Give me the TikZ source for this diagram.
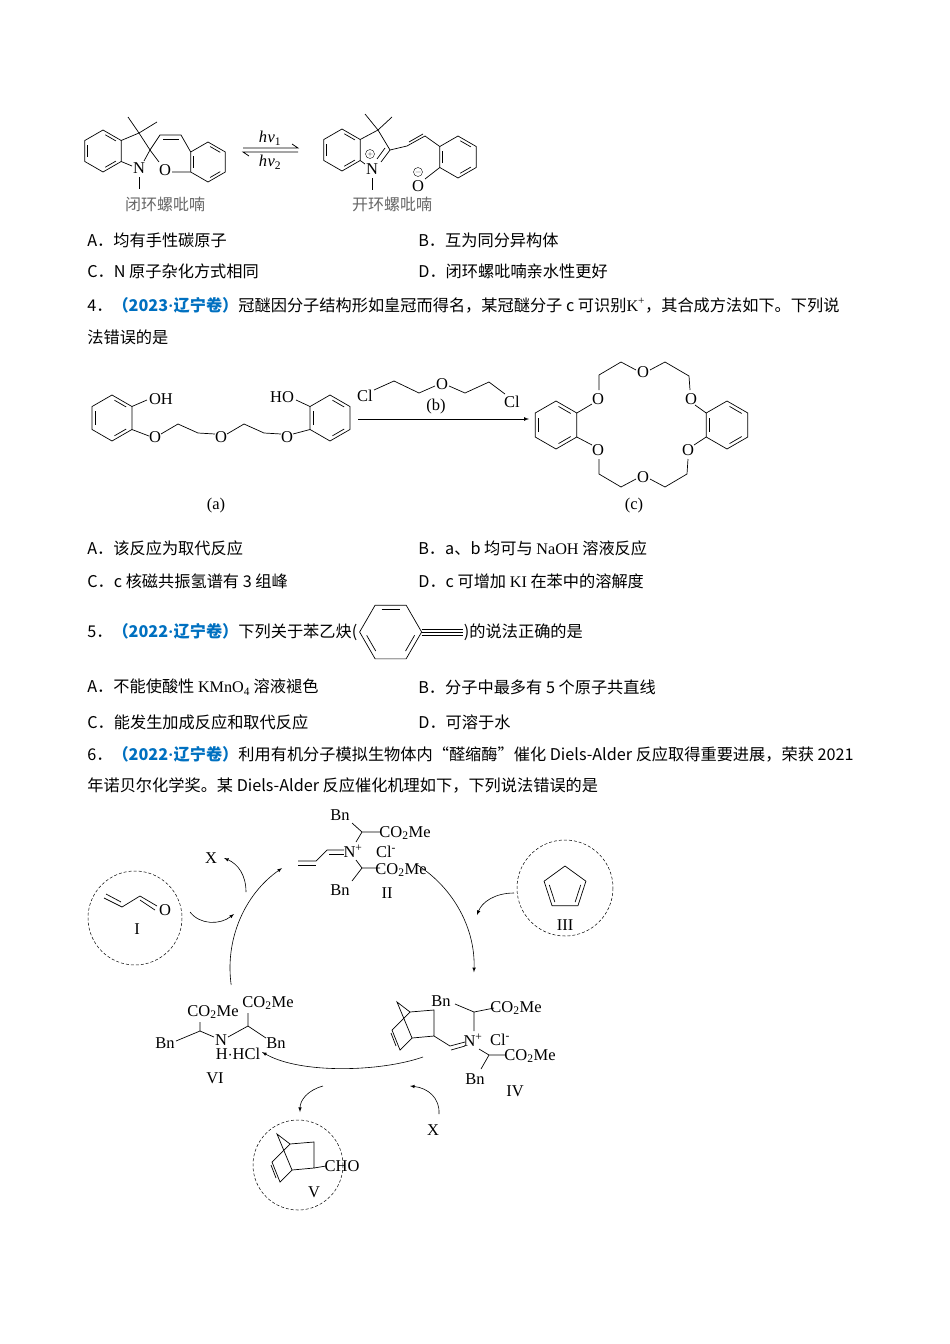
\documentclass[tikz,border=0pt]{standalone}
\usepackage{fontspec}
\setmainfont{Noto Sans CJK SC}
\newfontfamily\chem{Liberation Serif}
\usetikzlibrary{arrows,positioning,calc}
\definecolor{tagblue}{RGB}{0,112,192}
\tikzset{
    txt/.style={anchor=west,inner sep=0pt,font=\fontsize{16.2}{18}\selectfont},
    chm/.style={inner sep=0.5pt,font=\chem\fontsize{16.5}{17}\selectfont},
    captxt/.style={inner sep=0pt,font=\fontsize{16}{18}\selectfont,text=black!60},
    dcirc/.style={draw,densely dashed,line width=0.5pt},
    step arrow/.style={-latex,line width=0.6pt}
}
\newcommand{\tagb}[1]{\textcolor{tagblue}{\bfseries （#1{\chem\bfseries ·}辽宁卷）}}
% benzene ring: centre, radius, start angle
\newcommand{\benzring}[3]{%
  \begin{scope}[shift={(#1)}]
    \draw (#3:#2) \foreach \k in {1,...,5}{ -- (#3+\k*60:#2)} -- cycle;
    \foreach \k in {0,2,4} \draw (#3+\k*60+8:0.78*#2) -- (#3+\k*60+52:0.78*#2);
  \end{scope}}
% norbornene skeleton, origin at upper bridgehead
\newcommand{\norbornene}{%
  \draw (0,0) -- (24,-2) -- (24,24) -- (2,26) -- (-10,38) -- (-18,18) -- cycle;
  \draw (-14,34) -- (-19,21);
  \draw (0,0) -- (-13,-10) -- (2,26);}
\begin{document}
\begin{tikzpicture}[x=1pt,y=-1pt,line width=0.7pt]
\useasboundingbox (0,0) rectangle (950,1344);

%% question 3: spiropyran
\benzring{103,151}{21}{30}
\draw (121.2,140.5) -- (139,133) -- (150,150) -- (144,161);
\draw (121.2,161.5) -- (132,166);
\draw (139,133) -- (128,117) (139,133) -- (157,122);
\node[chm] (n1) at (139,168) {N};
\draw (139,177) -- (139,189);
\draw (150,150) -- (160,135) -- (181,135) -- (190.7,152);
\draw (163,139.5) -- (179,139.5);
\node[chm] (o1) at (165,170) {O};
\draw (150,150) -- (159,162) (172,172) -- (190.7,172);
\benzring{208,162}{20}{30}
\draw (243,148) -- (298,148) -- (292,144);
\draw (298,152) -- (243,152) -- (249,156);
\node[chm] (hv1) at (270,138) {\itshape h\kern0.5pt v\textsubscript{\upshape 1}};
\node[chm] (hv2) at (270,162) {\itshape h\kern0.5pt v\textsubscript{\upshape 2}};
\benzring{342,150}{21}{30}
\draw (360.2,139.5) -- (378,130) -- (390,150) -- (381,162);
\draw (385,148) -- (377,159);
\draw (360.2,160.5) -- (365,164);
\draw (378,130) -- (365,114) (378,130) -- (392,117);
\node[chm] (n2) at (372,169) {N};
\draw[line width=0.4pt] (370,154) circle (4.5) (367.5,154) -- (372.5,154) (370,151.5) -- (370,156.5);
\draw (372,178) -- (372,190);
\draw (390,150) -- (407,146) -- (425,136) -- (439.8,146.5);
\draw (409,142) -- (423,134);
\benzring{458,157}{21}{30}
\node[chm] (o2) at (418,186) {O};
\draw[line width=0.4pt] (418,172) circle (4.5) (415.5,172) -- (420.5,172);
\draw (439.8,167.5) -- (425,179);
\node[captxt] (c1) at (165,204) {闭环螺吡喃};
\node[captxt] (c2) at (392,204) {开环螺吡喃};
\node[txt] at (87,240) {A．均有手性碳原子};
\node[txt] at (418,240) {B．互为同分异构体};
\node[txt] at (87,271) {C．N 原子杂化方式相同};
\node[txt] at (418,271) {D．闭环螺吡喃亲水性更好};

%% question 4: crown ether
\node[txt] at (87,305) {4．\tagb{2023}冠醚因分子结构形如皇冠而得名，某冠醚分子 c 可识别{\chem K\textsuperscript{+}}，其合成方法如下。下列说};
\node[txt] at (87,337) {法错误的是};
\benzring{112,418}{23}{30}
\node[chm] (oh) at (161,399) {OH};
\draw (131.9,406.5) -- (147,400);
\node[chm] (oa1) at (155,437) {O};
\node[chm] (oa2) at (221,437) {O};
\node[chm] (oa3) at (287,437) {O};
\draw (131.9,429.5) -- (149,436);
\draw (161,434) -- (178,424) -- (198,433) -- (215,434);
\draw (227,434) -- (244,424) -- (264,433) -- (281,434);
\draw (293,434) -- (310,429.5);
\benzring{330,418}{23}{30}
\node[chm] (ho) at (282,397) {HO};
\draw (296,400) -- (310,406.5);
\node[chm] (cl1) at (365,396) {Cl};
\node[chm] (ob) at (442,384) {O};
\node[chm] (cl2) at (512,402) {Cl};
\node[chm] (lb) at (436,407) {(b)};
\draw (374,390) -- (394,381) -- (419,393) -- (435,386);
\draw (449,386) -- (465,393) -- (489,382) -- (505,394);
\draw[-latex] (358,419) -- (529,419);
\benzring{556,425}{24}{30}
\benzring{727,425}{24}{30}
\node[chm] (oc1) at (598,399) {O};
\node[chm] (oc2) at (598,450) {O};
\node[chm] (oc3) at (643,372) {O};
\node[chm] (oc4) at (691,399) {O};
\node[chm] (oc5) at (688,450) {O};
\node[chm] (oc6) at (643,477) {O};
\draw (576.8,413) -- (592,404) (576.8,437) -- (592,445);
\draw (599,390) -- (599,375) -- (621,362) -- (636,370);
\draw (650,370) -- (665,362) -- (689,376) -- (690,390);
\draw (695,405) -- (706.2,413) (694,445) -- (706.2,437);
\draw (599,459) -- (599,474) -- (621,487) -- (636,479);
\draw (650,479) -- (665,487) -- (687,474) -- (688,459);
\node[chm] (la) at (216,506) {(a)};
\node[chm] (lc) at (634,506) {(c)};
\node[txt] at (87,548) {A．该反应为取代反应};
\node[txt] at (418,548) {B．a、b 均可与 {\chem NaOH} 溶液反应};
\node[txt] at (87,581) {C．c 核磁共振氢谱有 3 组峰};
\node[txt] at (418,581) {D．c 可增加 {\chem KI} 在苯中的溶解度};

%% question 5: phenylethyne
\node[txt] (q5) at (87,632) {5．\tagb{2022}下列关于苯乙炔(};
\benzring{$(q5.east)+(33,0)$}{31}{0}
\draw ($(q5.east)+(64,-3)$) -- ++(41,0) ($(q5.east)+(64,0)$) -- ++(41,0) ($(q5.east)+(64,3)$) -- ++(41,0);
\node[txt] at ($(q5.east)+(106,0)$) {)的说法正确的是};
\node[txt] at (87,687) {A．不能使酸性 {\chem KMnO\textsubscript{4}} 溶液褪色};
\node[txt] at (418,687) {B．分子中最多有 5 个原子共直线};
\node[txt] at (87,722) {C．能发生加成反应和取代反应};
\node[txt] at (418,722) {D．可溶于水};

%% question 6: catalytic cycle
\node[txt] at (87,754) {6．\tagb{2022}利用有机分子模拟生物体内“醛缩酶”催化 Diels-Alder 反应取得重要进展，荣获 2021};
\node[txt] at (87,785) {年诺贝尔化学奖。某 Diels-Alder 反应催化机理如下，下列说法错误的是};

\draw[step arrow] (352,968) ++(-58:122) arc[start angle=-58,end angle=2,radius=122];
\draw[step arrow] (352,968) ++(172:122) arc[start angle=172,end angle=235,radius=122];
\draw[step arrow] (423,1057) .. controls (380,1072) and (300,1074) .. (262,1052);

% I
\draw[dcirc] (135,918) circle (47);
\draw (104,898) -- (122,907) -- (140,896) -- (157,906);
\draw (106,894) -- (121,902) (140,900) -- (155,910);
\node[chm] (oI) at (165,910) {O};
\node[chm] (lI) at (137,929) {I};
\draw[step arrow] (190,912) .. controls (200,925) and (220,925) .. (234,914);
\node[chm] (x1) at (211,858) {X};
\draw[step arrow] (246,892) .. controls (246,875) and (238,864) .. (224,858);
% II
\node[chm] (nII) at (353,851) {N\textsuperscript{+}};
\node[chm] (clII) at (386,852) {Cl\textsuperscript{-}};
\node[chm] (bnII1) at (340,815) {Bn};
\node[chm] (bnII2) at (340,890) {Bn};
\node[chm] (esII1) at (405,833) {CO\textsubscript{2}Me};
\node[chm] (esII2) at (401,870) {CO\textsubscript{2}Me};
\node[chm] (lII) at (387,893) {II};
\draw (298,861) -- (316,861) -- (327,850) -- (344,850);
\draw (298,865) -- (316,865) (329,854) -- (344,854);
\draw (356,842) -- (362,832) -- (352,823) (362,832) -- (380,832);
\draw (356,860) -- (362,868) -- (352,881) (362,868) -- (380,868);
% III
\draw[dcirc] (565,888) circle (48);
\path (565,888) ++(-90:22) coordinate (p1) (565,888) ++(-18:22) coordinate (p2)
      (565,888) ++(54:22) coordinate (p3) (565,888) ++(126:22) coordinate (p4)
      (565,888) ++(198:22) coordinate (p5);
\draw (p1) -- (p2) -- (p3) -- (p4) -- (p5) -- cycle;
\draw ($(p2)!0.15!(p3)+(-4,0)$) -- ($(p2)!0.85!(p3)+(-4,0)$);
\draw ($(p5)!0.15!(p4)+(4,0)$) -- ($(p5)!0.85!(p4)+(4,0)$);
\node[chm] (lIII) at (565,925) {III};
\draw[step arrow] (514,893) .. controls (495,893) and (482,902) .. (477,915);
% IV
\begin{scope}[shift={(410,1012)}]
  \norbornene
\end{scope}
\node[chm] (nIV) at (473,1040) {N\textsuperscript{+}};
\node[chm] (clIV) at (500,1040) {Cl\textsuperscript{-}};
\node[chm] (bnIV1) at (441,1001) {Bn};
\node[chm] (bnIV2) at (475,1079) {Bn};
\node[chm] (esIV1) at (516,1008) {CO\textsubscript{2}Me};
\node[chm] (esIV2) at (530,1056) {CO\textsubscript{2}Me};
\node[chm] (lIV) at (515,1091) {IV};
\draw (434,1036) -- (450,1046) -- (465,1042) (451,1050) -- (465,1046);
\draw (474,1031) -- (474,1012) -- (455,1004) (474,1012) -- (494,1008);
\draw (479,1049) -- (489,1055) -- (506,1055) (489,1055) -- (481,1069);
\node[chm] (x2) at (433,1130) {X};
\draw[step arrow] (439,1114) .. controls (440,1098) and (428,1088) .. (410,1086);
% V
\draw[dcirc] (298,1165) circle (45);
\begin{scope}[shift={(290,1144)}]
  \norbornene
\end{scope}
\node[chm] (cho) at (342,1166) {CHO};
\draw (314,1168) -- (326,1166);
\node[chm] (lV) at (314,1192) {V};
\draw[step arrow] (323,1086) .. controls (308,1090) and (300,1100) .. (300,1112);
% VI
\node[chm] (esVI1) at (213,1012) {CO\textsubscript{2}Me};
\node[chm] (esVI2) at (268,1003) {CO\textsubscript{2}Me};
\node[chm] (bnVI1) at (165,1043) {Bn};
\node[chm] (bnVI2) at (276,1043) {Bn};
\node[chm] (nVI) at (221,1040) {N};
\node[chm] (hVI) at (238,1054) {H$\cdot$HCl};
\node[chm] (lVI) at (215,1078) {VI};
\draw (200,1022) -- (200,1031) -- (176,1041) (200,1031) -- (214,1037);
\draw (228,1037) -- (248,1026) -- (248,1013) (248,1026) -- (266,1038);
\end{tikzpicture}
\end{document}
